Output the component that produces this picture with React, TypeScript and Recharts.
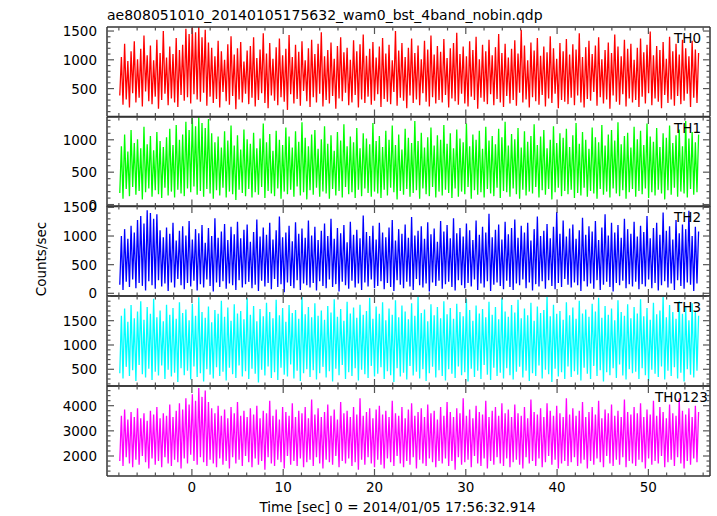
import React from 'react';
import { LineChart, Line, XAxis, YAxis } from 'recharts';

// ---------- data ----------
const TITLE = 'ae808051010_20140105175632_wam0_bst_4band_nobin.qdp';
const Y_LABEL = 'Counts/sec';
const X_LABEL = 'Time [sec] 0 = 2014/01/05 17:56:32.914';
const T_START = -7.9;
const T_END = 55.5;

const X_TICKS = [-8, -6, -4, -2, 0, 2, 4, 6, 8, 10, 12, 14, 16, 18, 20, 22, 24, 26, 28, 30, 32, 34, 36, 38, 40, 42, 44, 46, 48, 50, 52, 54, 56];
const X_MAJOR = [0, 10, 20, 30, 40, 50];

// Each time bin: lowest and highest count rate (the curve sweeps between them)
const TH0_HI = [
  1050, 1280, 980, 1150, 1320, 1010, 1190, 1420, 1080, 1250, 990, 1350, 1120, 1500, 1040, 1230, 1100, 1380, 1170, 1260,
  1540, 1450, 1570, 1480, 1570, 1390, 1520, 1300, 1210, 1060, 1330, 1150, 1000, 1270, 1410, 1090, 1200, 1310, 970, 1160,
  1240, 1390, 1030, 1180, 1460, 1110, 1290, 1020, 1220, 1370, 1080, 1190, 1430, 1050, 1260, 1140, 1320, 990, 1200, 1350,
  1100, 1280, 1480, 1060, 1170, 1300, 1020, 1240, 1390, 1130, 1210, 1000, 1340, 1150, 1270, 1440, 1070, 1190, 1310, 1040,
  1230, 1380, 1110, 1260, 990, 1500, 1160, 1290, 1050, 1210, 1370, 1120, 1250, 1010, 1330, 1180, 1420, 1090, 1240, 1140,
  1360, 1030, 1200, 1290, 1470, 1100, 1230, 1060, 1320, 1170, 1400, 1010, 1260, 1150, 1350, 1080, 1220, 1450, 1120, 1280,
  1040, 1190, 1340, 1110, 1520, 1250, 990, 1300, 1160, 1380, 1070, 1230, 1130, 1410, 1200, 1020, 1290, 1150, 1360, 1090,
  1270, 1180, 1460, 1050, 1220, 1330, 1100, 1250, 1390, 1010, 1170, 1300, 1120, 1440, 1230, 1060, 1350, 1190, 1280, 1000,
  1210, 1370, 1130, 1260, 1490, 1080, 1240, 1170, 1310, 1020, 1400, 1150, 1280, 1090, 1350, 1200, 1060, 1330, 1180, 1120,
];
const TH0_LO = [
  380, 220, 310, 170, 420, 260, 340, 190, 450, 280, 230, 360, 150, 300, 410, 210, 330, 260, 180, 390,
  290, 350, 240, 400, 310, 270, 430, 200, 360, 250, 320, 170, 440, 280, 220, 370, 140, 310, 260, 410,
  230, 340, 190, 300, 420, 250, 160, 380, 290, 210, 350, 270, 130, 400, 240, 320, 200, 460, 280, 180,
  350, 260, 410, 190, 300, 240, 370, 150, 330, 280, 430, 210, 260, 390, 170, 310, 250, 360, 220, 290,
  400, 180, 320, 270, 230, 440, 200, 340, 290, 160, 380, 250, 310, 210, 420, 270, 190, 350, 240, 300,
  260, 390, 170, 330, 280, 220, 410, 240, 190, 360, 300, 150, 340, 270, 230, 400, 210, 320, 260, 180,
  370, 240, 300, 200, 430, 260, 310, 170, 350, 280, 220, 390, 190, 330, 250, 410, 160, 300, 270, 230,
  340, 210, 380, 260, 170, 320, 290, 440, 200, 350, 240, 310, 150, 380, 270, 220, 400, 190, 330, 260,
  300, 180, 360, 240, 420, 210, 330, 270, 160, 390, 250, 310, 200, 370, 230, 290, 410, 180, 340, 250,
];

const TH1_HI = [
  900, 1080, 820, 1150, 950, 1010, 870, 1200, 930, 1060, 840, 1120, 980, 890, 1040, 1170, 920, 1230, 1000, 1080,
  1280, 1150, 1340, 1210, 1352, 1260, 1180, 1320, 1100, 960, 1050, 880, 1130, 990, 1220, 910, 1070, 850, 1160, 1010,
  940, 1110, 870, 1020, 1250, 960, 1090, 830, 1140, 1000, 920, 1190, 1050, 880, 1130, 970, 1270, 1030, 900, 1080,
  1150, 860, 1010, 1210, 940, 1070, 830, 1120, 990, 1240, 900, 1050, 960, 1180, 870, 1100, 1020, 930, 1260, 980,
  1060, 890, 1140, 1000, 1220, 920, 1080, 850, 1170, 1030, 950, 1290, 980, 1110, 880, 1040, 1190, 910, 1070, 1000,
  1230, 940, 1100, 870, 1160, 1020, 960, 1250, 900, 1080, 1000, 1140, 860, 1200, 990, 1060, 930, 1170, 1040, 1280,
  910, 1090, 1010, 1180, 880, 1130, 970, 1060, 1240, 920, 1050, 1150, 870, 1000, 1210, 950, 1100, 1030, 1170, 890,
  1070, 1260, 940, 1120, 1000, 860, 1190, 1040, 960, 1230, 910, 1080, 1150, 990, 1270, 930, 1060, 1110, 880, 1200,
  1010, 1140, 920, 1250, 1050, 970, 1180, 890, 1100, 1030, 1220, 950, 1070, 1160, 900, 1290, 1020, 1120, 960, 1080,
];
const TH1_LO = [
  180, 90, 240, 130, 270, 150, 210, 80, 190, 250, 120, 220, 160, 100, 260, 140, 200, 110, 230, 170,
  130, 250, 190, 280, 150, 210, 120, 240, 170, 90, 220, 140, 260, 110, 200, 160, 70, 230, 180, 130,
  240, 110, 190, 150, 270, 100, 210, 170, 130, 250, 90, 200, 160, 230, 120, 280, 140, 190, 80, 220,
  150, 260, 120, 200, 170, 90, 240, 140, 210, 110, 270, 160, 190, 100, 230, 130, 250, 180, 120, 200,
  170, 100, 230, 140, 260, 190, 80, 210, 150, 240, 120, 180, 220, 90, 250, 160, 130, 270, 110, 200,
  140, 230, 180, 100, 250, 120, 200, 160, 270, 90, 220, 150, 190, 110, 240, 170, 130, 260, 100, 210,
  190, 120, 250, 160, 90, 230, 140, 200, 170, 270, 110, 220, 150, 240, 80, 190, 260, 130, 210, 160,
  230, 100, 180, 140, 260, 120, 210, 170, 90, 240, 150, 200, 110, 250, 170, 130, 220, 90, 190, 240,
  120, 210, 160, 250, 100, 190, 140, 230, 170, 80, 220, 150, 260, 120, 200, 170, 110, 240, 150, 190,
];

const TH2_HI = [
  1000, 1120, 950, 1180, 1060, 1280, 1350, 1220, 1450, 1400, 1300, 1380, 1100, 980, 1150, 1040, 1230, 920, 1090, 1170,
  1010, 1260, 940, 1120, 1050, 1190, 880, 1140, 1000, 1310, 970, 1080, 1210, 930, 1160, 1030, 1250, 960, 1110, 1200,
  900, 1070, 1290, 990, 1150, 1020, 1230, 940, 1100, 1340, 980, 1060, 1180, 910, 1240, 1040, 1130, 970, 1270, 1010,
  1160, 930, 1090, 1220, 1000, 1300, 950, 1140, 1050, 1190, 890, 1250, 1020, 1110, 960, 1360, 1070, 1000, 1180, 940,
  1230, 1060, 980, 1150, 1280, 920, 1120, 1040, 1200, 970, 1330, 1010, 1090, 1170, 950, 1240, 1030, 1130, 900, 1260,
  1080, 1190, 960, 1310, 1050, 1140, 990, 1220, 1100, 930, 1270, 1020, 1160, 1060, 1390, 980, 1110, 1200, 940, 1250,
  1030, 1140, 1290, 970, 1180, 1060, 1230, 920, 1120, 1340, 1000, 1090, 1210, 960, 1160, 1420, 1040, 1270, 990, 1130,
  1200, 950, 1100, 1320, 1020, 1170, 1080, 1260, 930, 1150, 1380, 1010, 1230, 1060, 1190, 970, 1300, 1120, 1040, 1250,
  990, 1180, 1070, 1350, 960, 1140, 1230, 1020, 1410, 1090, 1170, 940, 1280, 1050, 1200, 1120, 1440, 1000, 1160, 1080,
];
const TH2_LO = [
  150, 60, 200, 110, 240, 90, 180, 130, 50, 210, 140, 80, 230, 120, 170, 40, 190, 100, 250, 140,
  70, 180, 120, 220, 50, 160, 100, 240, 130, 30, 190, 110, 210, 80, 170, 140, 60, 230, 100, 160,
  200, 90, 150, 40, 220, 120, 180, 70, 250, 110, 160, 20, 190, 130, 90, 230, 60, 170, 140, 100,
  180, 50, 210, 130, 90, 240, 110, 160, 30, 200, 140, 80, 220, 100, 170, 60, 190, 120, 240, 90,
  130, 210, 70, 180, 110, 40, 230, 150, 90, 200, 120, 60, 250, 140, 100, 170, 30, 190, 130, 220,
  80, 160, 200, 110, 50, 230, 140, 90, 180, 120, 240, 60, 170, 100, 210, 40, 150, 190, 130, 70,
  220, 110, 60, 170, 140, 240, 90, 190, 50, 160, 120, 210, 80, 230, 130, 70, 180, 110, 250, 150,
  100, 190, 140, 40, 210, 120, 170, 80, 230, 60, 150, 200, 110, 30, 180, 140, 220, 90, 160, 120,
  200, 70, 160, 120, 240, 90, 180, 50, 140, 210, 100, 170, 60, 230, 130, 80, 190, 150, 40, 170,
];

const TH3_HI = [
  1600, 1750, 1480, 1820, 1550, 1690, 1900, 1520, 1780, 1640, 1950, 1570, 1710, 1490, 1830, 1620, 1760, 1540, 1880, 1660,
  1730, 1510, 1850, 1600, 1980, 1680, 1560, 1790, 1470, 1720, 1640, 1910, 1580, 1770, 1500, 1840, 1650, 1700, 1530, 1960,
  1620, 1800, 1490, 1740, 1590, 1870, 1680, 1550, 1930, 1610, 1760, 1480, 1820, 1660, 1720, 1540, 1990, 1630, 1780, 1570,
  1860, 1600, 1710, 1520, 1800, 1670, 1940, 1580, 1740, 1500, 1890, 1650, 1770, 1560, 1830, 1620, 1700, 1970, 1540, 1790,
  1640, 1880, 1510, 1750, 1620, 1920, 1570, 1810, 1690, 1530, 1860, 1600, 2000, 1660, 1730, 1490, 1840, 1610, 1780, 1550,
  1900, 1630, 1760, 1540, 1850, 1680, 1590, 1950, 1720, 1500, 1810, 1650, 1740, 1570, 1890, 1620, 1780, 1530, 1960, 1690,
  1580, 1820, 1670, 1930, 1550, 1750, 1610, 1870, 1500, 1790, 1660, 1720, 1990, 1590, 1830, 1640, 1700, 1520, 1880, 1610,
  1770, 1540, 1910, 1650, 1730, 1580, 1850, 1690, 1970, 1560, 1800, 1620, 1750, 1510, 1920, 1680, 1600, 1840, 1550, 1780,
  1650, 1940, 1590, 1760, 1520, 1870, 1630, 1710, 1990, 1570, 1820, 1680, 1540, 1900, 1640, 1790, 1510, 1860, 1700, 1600,
];
const TH3_LO = [
  420, 310, 550, 360, 480, 260, 590, 400, 330, 510, 280, 450, 370, 580, 300, 490, 350, 430, 240, 520,
  380, 470, 290, 560, 340, 420, 250, 500, 390, 310, 540, 360, 450, 270, 530, 400, 320, 580, 350, 460,
  300, 510, 410, 230, 490, 370, 560, 320, 440, 280, 530, 390, 350, 600, 310, 470, 260, 420, 500, 340,
  480, 290, 420, 550, 330, 460, 250, 510, 380, 590, 300, 440, 360, 520, 270, 490, 400, 320, 570, 350,
  410, 540, 300, 460, 380, 240, 520, 350, 430, 290, 570, 370, 450, 310, 500, 260, 420, 550, 330, 480,
  360, 270, 500, 410, 320, 560, 380, 440, 250, 510, 340, 470, 300, 590, 390, 280, 530, 360, 430, 310,
  520, 380, 290, 450, 550, 330, 470, 260, 420, 360, 580, 310, 490, 400, 240, 510, 350, 440, 300, 560,
  340, 460, 390, 270, 530, 410, 300, 570, 360, 480, 250, 440, 380, 520, 320, 600, 370, 290, 500, 420,
  450, 300, 520, 380, 260, 490, 410, 340, 560, 290, 470, 360, 540, 310, 430, 250, 500, 390, 330, 470,
];

const TH0123_HI = [
  3600, 3850, 3450, 3750, 3550, 3900, 3500, 3700, 3400, 3800, 3650, 3950, 3500, 3700, 3600, 4050, 3550, 3800, 4100, 3850,
  4300, 4050, 4450, 4200, 4700, 4350, 4600, 4150, 3900, 3700, 4000, 3600, 3850, 3500, 3950, 3700, 4150, 3600, 3800, 3550,
  3900, 3650, 4000, 3500, 3800, 3700, 4200, 3600, 3850, 3450, 3950, 3750, 3600, 4100, 3550, 3800, 3700, 3950, 3500, 4250,
  3650, 3900, 3550, 3750, 4050, 3600, 3850, 3450, 4150, 3700, 3800, 3550, 3950, 3650, 4300, 3600, 3750, 3900, 3500, 3850,
  4000, 3650, 3800, 3550, 4200, 3700, 3600, 3950, 3500, 3850, 4100, 3600, 3750, 3900, 3550, 4050, 3700, 3800, 3450, 3950,
  3600, 4150, 3750, 3550, 3900, 3700, 4300, 3600, 3850, 3500, 4000, 3750, 3650, 4200, 3550, 3800, 3950, 3600, 4100, 3700,
  3850, 3550, 4050, 3700, 3600, 3950, 3500, 4250, 3750, 3650, 3900, 3550, 4100, 3800, 3600, 4000, 3700, 3550, 4300, 3650,
  3900, 3600, 3800, 4150, 3550, 3750, 3950, 3650, 4200, 3500, 3850, 3700, 4050, 3600, 3800, 3550, 4250, 3750, 3650, 3950,
  3700, 4100, 3550, 3850, 3650, 4200, 3600, 3950, 3750, 3500, 4050, 3700, 3600, 4300, 3800, 3650, 3900, 3550, 4000, 3750,
];
const TH0123_LO = [
  1800, 1600, 1950, 1700, 1550, 1850, 1650, 2000, 1750, 1500, 1900, 1650, 1800, 1550, 1950, 1700, 1600, 1850, 1750, 1500,
  1900, 1700, 2050, 1800, 1650, 1950, 1750, 1600, 1850, 1700, 1550, 1900, 1650, 1800, 1500, 1950, 1700, 1850, 1600, 2000,
  1750, 1550, 1900, 1650, 1800, 1450, 1950, 1700, 1600, 1850, 1750, 1500, 2000, 1650, 1800, 1600, 1900, 1550, 1750, 1850,
  1600, 1950, 1700, 1500, 1850, 1750, 1650, 2000, 1550, 1800, 1700, 1900, 1600, 1750, 1450, 1850, 1650, 1950, 1700, 1550,
  1850, 1650, 1500, 1900, 1750, 1600, 2000, 1700, 1550, 1800, 1650, 1950, 1500, 1850, 1700, 1600, 1900, 1750, 1550, 1800,
  1700, 1900, 1600, 1800, 1450, 1950, 1650, 1750, 1850, 1550, 2000, 1700, 1600, 1900, 1500, 1800, 1650, 1950, 1700, 1600,
  1900, 1550, 1750, 1850, 1650, 1500, 1950, 1700, 1800, 1600, 1900, 1550, 1750, 2000, 1650, 1850, 1500, 1700, 1800, 1600,
  1750, 1950, 1600, 1700, 1850, 1500, 1800, 1650, 1900, 1750, 1550, 2000, 1700, 1600, 1850, 1650, 1950, 1550, 1800, 1700,
  1600, 1850, 1750, 1500, 1900, 1650, 1800, 1700, 2000, 1550, 1750, 1850, 1600, 1950, 1700, 1500, 1800, 1650, 1900, 1750,
];

const PANEL_LABELS = ['TH0', 'TH1', 'TH2', 'TH3', 'TH0123'];
const PANEL_COLORS = ['#ff0000', '#00ff00', '#0000ff', '#00ffff', '#ff00ff'];
const PANEL_LO = [TH0_LO, TH1_LO, TH2_LO, TH3_LO, TH0123_LO];
const PANEL_HI = [TH0_HI, TH1_HI, TH2_HI, TH3_HI, TH0123_HI];
const PANEL_DOMAINS: [number, number][] = [[15, 1570], [-30, 1352], [-47, 1524], [156, 2008], [1205, 4783]];
const PANEL_MAJOR = [[500, 1000, 1500], [0, 500, 1000], [0, 500, 1000, 1500], [500, 1000, 1500], [2000, 3000, 4000]];
const PANEL_MINOR_STEP = [100, 100, 100, 100, 200];

// ---------- layout ----------
const W = 717;
const H = 516;
const PLOT_L = 107;
const PLOT_R = 710;
const PANEL_EDGES = [27, 116.5, 206, 296, 386, 476];
const LABEL_X = [674, 674, 674, 674, 655];
const X_DOMAIN: [number, number] = [-9.3, 56.75];
const FONT = '"DejaVu Sans", sans-serif';
const FRAME = '#333333';
const TICK = '#555555';
const MAJ = 7;
const MIN = 3.5;

function minorTicks(domain: [number, number], step: number) {
  const out: number[] = [];
  const start = Math.ceil(domain[0] / step) * step;
  for (let v = start; v <= domain[1]; v += step) out.push(v);
  return out;
}

// the curve visits each bin's low and high value in turn
function rowsFor(lo: number[], hi: number[]) {
  const n = lo.length;
  const step = (T_END - T_START) / (2 * n - 1);
  const rows: { t: number; v: number }[] = [];
  for (let i = 0; i < n; i++) {
    rows.push({ t: T_START + 2 * i * step, v: lo[i] });
    rows.push({ t: T_START + (2 * i + 1) * step, v: hi[i] });
  }
  return rows;
}

function PanelChart({ idx }: { idx: number }) {
  const last = idx === PANEL_LO.length - 1;
  const top = PANEL_EDGES[idx];
  const bottom = PANEL_EDGES[idx + 1];
  const PAD = 14;
  const bPad = last ? 30 : PAD;
  const h = bottom - top + PAD + bPad;
  const domain = PANEL_DOMAINS[idx];
  const major = PANEL_MAJOR[idx];
  const yTicks = minorTicks(domain, PANEL_MINOR_STEP[idx]);
  const rows = rowsFor(PANEL_LO[idx], PANEL_HI[idx]);

  const leftTick = (p: any) => {
    const v = p.payload.value;
    const isMaj = major.includes(v);
    return (
      <g>
        <line x1={p.x} x2={p.x + (isMaj ? MAJ : MIN)} y1={p.y} y2={p.y} stroke={TICK} strokeWidth={1.2} />
        {isMaj && (
          <text x={p.x - 10} y={p.y + 5} textAnchor="end" fontFamily={FONT} fontSize={13.5} fill="#000" stroke="none">
            {v}
          </text>
        )}
      </g>
    );
  };
  const rightTick = (p: any) => {
    const isMaj = major.includes(p.payload.value);
    return <line x1={p.x} x2={p.x - (isMaj ? MAJ : MIN)} y1={p.y} y2={p.y} stroke={TICK} strokeWidth={1.2} />;
  };
  const topTick = (p: any) => {
    const isMaj = X_MAJOR.includes(p.payload.value);
    return <line x1={p.x} x2={p.x} y1={p.y} y2={p.y + (isMaj ? MAJ : MIN)} stroke={TICK} strokeWidth={1.2} />;
  };
  const bottomTick = (p: any) => {
    const v = p.payload.value;
    const isMaj = X_MAJOR.includes(v);
    return (
      <g>
        <line x1={p.x} x2={p.x} y1={p.y} y2={p.y - (isMaj ? MAJ : MIN)} stroke={TICK} strokeWidth={1.2} />
        {last && isMaj && (
          <text x={p.x} y={p.y + 16} textAnchor="middle" fontFamily={FONT} fontSize={13.5} fill="#000" stroke="none">
            {v}
          </text>
        )}
      </g>
    );
  };

  const axisLine = { stroke: FRAME, strokeWidth: 1.5 };

  return (
    <div style={{ position: 'absolute', left: 0, top: top - PAD, width: W, height: h }}>
      <LineChart width={W} height={h} data={rows} margin={{ top: PAD - 1, right: W - PLOT_R - 1, bottom: bPad - 1, left: 0 }}>
        <XAxis xAxisId="b" dataKey="t" type="number" domain={X_DOMAIN} allowDataOverflow ticks={X_TICKS} interval={0}
          height={1} tickSize={0} tickMargin={0} tickLine={false} axisLine={axisLine} stroke={FRAME} tick={bottomTick} />
        <XAxis xAxisId="t" orientation="top" dataKey="t" type="number" domain={X_DOMAIN} allowDataOverflow ticks={X_TICKS} interval={0}
          height={1} tickSize={0} tickMargin={0} tickLine={false} axisLine={axisLine} stroke={FRAME} tick={topTick} />
        <YAxis yAxisId="l" type="number" domain={domain} allowDataOverflow ticks={yTicks} interval={0}
          width={PLOT_L} tickSize={0} tickMargin={0} tickLine={false} axisLine={axisLine} stroke={FRAME} tick={leftTick} />
        <YAxis yAxisId="r" orientation="right" type="number" domain={domain} allowDataOverflow ticks={yTicks} interval={0}
          width={1} tickSize={0} tickMargin={0} tickLine={false} axisLine={axisLine} stroke={FRAME} tick={rightTick} />
        <Line xAxisId="t" yAxisId="r" dataKey="v" stroke="none" dot={false} activeDot={false} isAnimationActive={false} />
        <Line xAxisId="b" yAxisId="l" dataKey="v" stroke={PANEL_COLORS[idx]} strokeWidth={1.3} strokeLinejoin="miter" dot={false} activeDot={false} isAnimationActive={false} />
      </LineChart>
    </div>
  );
}

export default function App() {
  return (
    <div style={{ position: 'absolute', left: 0, top: 0, width: W, height: H, background: '#fff', overflow: 'hidden' }}>
      {PANEL_LO.map((_, i) => (
        <PanelChart key={i} idx={i} />
      ))}
      <svg width={W} height={H} style={{ position: 'absolute', left: 0, top: 0, pointerEvents: 'none' }}>
        <text x={107} y={20} fontFamily={FONT} fontSize={14} fill="#000">{TITLE}</text>
        <text x={46} y={259} textAnchor="middle" fontFamily={FONT} fontSize={13.5} fill="#000" transform="rotate(-90 46 259)">
          {Y_LABEL}
        </text>
        <text x={397.5} y={512} textAnchor="middle" fontFamily={FONT} fontSize={13.5} fill="#000">{X_LABEL}</text>
        {PANEL_LABELS.map((l, i) => (
          <text key={l} x={LABEL_X[i]} y={PANEL_EDGES[i] + 16} fontFamily={FONT} fontSize={13.5} fill="#000">{l}</text>
        ))}
      </svg>
    </div>
  );
}
